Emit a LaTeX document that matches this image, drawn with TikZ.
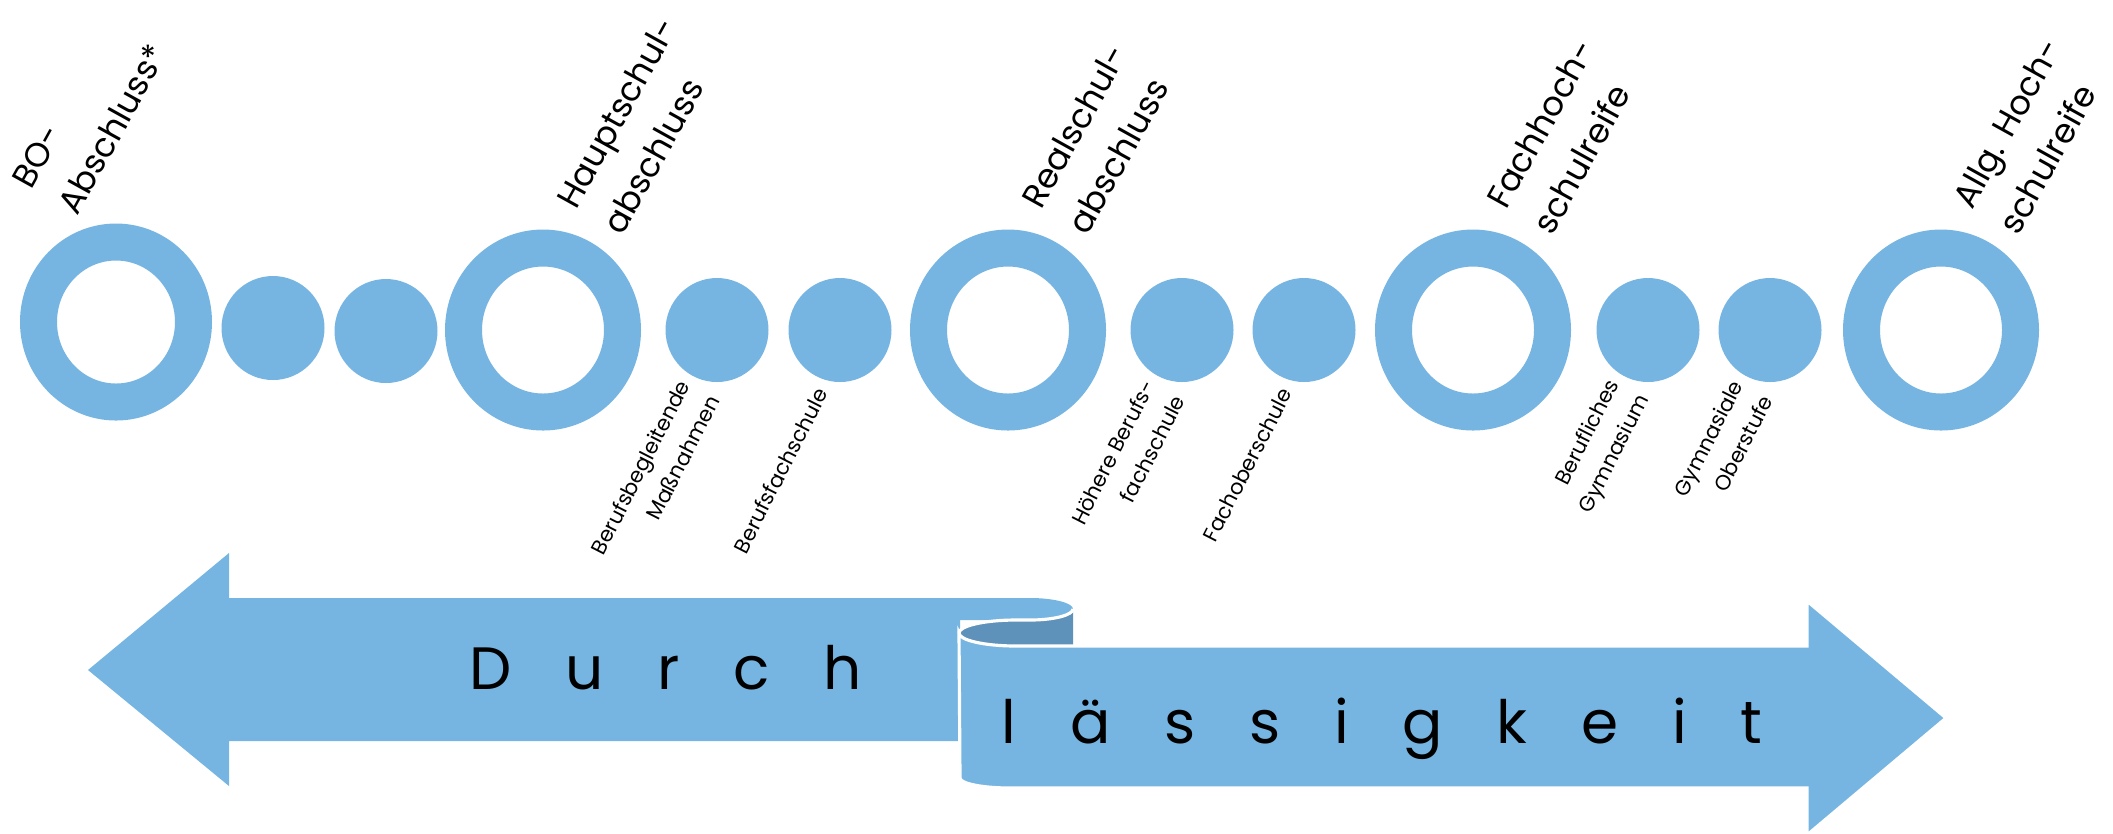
\documentclass[tikz,border=0pt]{standalone}
\usepackage{fontspec}
\setmainfont{Poppins}
\definecolor{stepblue}{RGB}{118, 181, 226}
\definecolor{rolldark}{RGB}{94, 146, 187}
\usetikzlibrary{shapes, positioning, calc}

\begin{document}
\begin{tikzpicture}[
  ring/.style={ellipse, draw=stepblue, line width=0.37cm, fill=white, minimum width=1.59cm, minimum height=1.64cm, inner sep=0pt},
  dot/.style={ellipse, fill=stepblue, minimum width=1.03cm, minimum height=1.04cm, inner sep=0pt},
  biglabel/.style={rotate=61, anchor=south west, align=left, inner sep=0pt, font=\fontsize{9.6}{15}\selectfont},
  smalllabel/.style={rotate=63, anchor=east, align=right, inner sep=0pt, font=\fontsize{6}{9.5}\selectfont},
  bandtext/.style={anchor=base, font=\fontsize{17}{20}\selectfont\addfontfeature{LetterSpace=90}}
]
  \useasboundingbox (0,0) rectangle (21.13,-8.33);

  % stations
  \node[ring, minimum width=1.55cm, minimum height=1.6cm] (bo) at (1.16,-3.22) {};
  \node[dot] (d1) at (2.73,-3.28) {};
  \node[dot] (d2) at (3.86,-3.31) {};
  \node[ring] (haupt) at (5.43,-3.30) {};
  \node[dot] (begl) at (7.17,-3.30) {};
  \node[dot] (bfs) at (8.40,-3.30) {};
  \node[ring] (real) at (10.08,-3.30) {};
  \node[dot] (hbfs) at (11.82,-3.30) {};
  \node[dot] (fos) at (13.04,-3.30) {};
  \node[ring] (fach) at (14.73,-3.30) {};
  \node[dot] (bg) at (16.48,-3.30) {};
  \node[dot] (gost) at (17.70,-3.30) {};
  \node[ring] (allg) at (19.41,-3.30) {};

  % degrees
  \node[biglabel] (bo-l) at ($(bo.north)+(-0.38,0.06)$) {BO-\\Abschluss*};
  \node[biglabel] (haupt-l) at ($(haupt.north)+(0.80,-0.08)$) {Hauptschul-\\abschluss};
  \node[biglabel] (real-l) at ($(real.north)+(0.80,-0.08)$) {Realschul-\\abschluss};
  \node[biglabel] (fach-l) at ($(fach.north)+(0.80,-0.08)$) {Fachhoch-\\schulreife};
  \node[biglabel] (allg-l) at ($(allg.north)+(0.78,-0.08)$) {Allg. Hoch-\\schulreife};

  % school types
  \node[smalllabel] (begl-l) at ($(begl.south)+(-0.18,-0.06)$) {Berufsbegleitende\\Maßnahmen};
  \node[smalllabel] (bfs-l) at ($(bfs.south)+(-0.18,-0.06)$) {Berufsfachschule};
  \node[smalllabel] (hbfs-l) at ($(hbfs.south)+(-0.18,-0.06)$) {Höhere Berufs-\\fachschule};
  \node[smalllabel] (fos-l) at ($(fos.south)+(-0.18,-0.06)$) {Fachoberschule};
  \node[smalllabel] (bg-l) at ($(bg.south)+(-0.18,-0.06)$) {Berufliches\\Gymnasium};
  \node[smalllabel] (gost-l) at ($(gost.south)+(-0.18,-0.06)$) {Gymnasiale\\Oberstufe};

  % left arrow with curl
  \fill[stepblue] (2.29,-5.98) -- (10.30,-5.98)
    arc[start angle=90, end angle=-90, x radius=0.43, y radius=0.11]
    -- (9.60,-6.20) -- (9.60,-7.41) -- (2.29,-7.41) -- (2.29,-7.86)
    -- (0.88,-6.70) -- (2.29,-5.53) -- cycle;
  \fill[rolldark] (10.73,-6.09)
    arc[start angle=0, end angle=-90, x radius=0.43, y radius=0.11]
    -- (10.16,-6.20) arc[start angle=90, end angle=270, x radius=0.57, y radius=0.13]
    -- (10.73,-6.46) -- cycle;
  \draw[white, line width=0.9pt] (10.73,-6.09)
    arc[start angle=0, end angle=-90, x radius=0.43, y radius=0.11]
    -- (10.16,-6.20) arc[start angle=90, end angle=180, x radius=0.57, y radius=0.13];
  % right arrow
  \filldraw[fill=stepblue, draw=white, line width=0.9pt] (9.59,-6.33)
    arc[start angle=180, end angle=270, x radius=0.57, y radius=0.13]
    -- (18.07,-6.46) -- (18.07,-6.01) -- (19.46,-7.18) -- (18.07,-8.35)
    -- (18.07,-7.88) -- (10.10,-7.88)
    arc[start angle=270, end angle=180, x radius=0.50, y radius=0.10] -- cycle;

  \node[bandtext] (durch) at (6.66,-6.89) {Durch};
  \node[bandtext] (laessig) at (13.82,-7.43) {lässigkeit};
\end{tikzpicture}
\end{document}
